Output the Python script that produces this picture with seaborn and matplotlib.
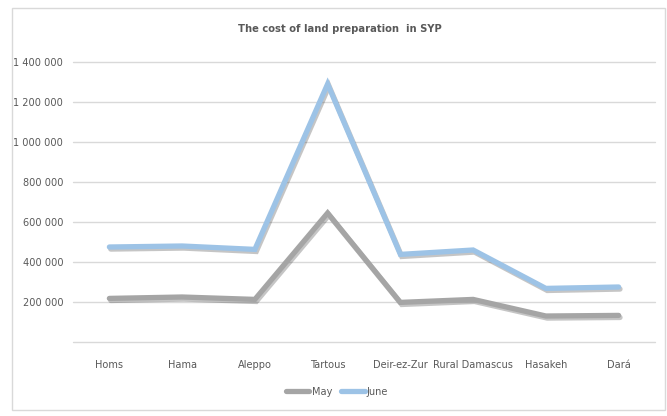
import matplotlib
matplotlib.use("Agg")
import matplotlib.pyplot as plt
import matplotlib.patheffects as pe
from matplotlib.patches import Rectangle
import pandas as pd
import seaborn as sns

regions = ["Homs", "Hama", "Aleppo", "Tartous", "Deir-ez-Zur",
           "Rural Damascus", "Hasakeh", "Dará"]
may = [218000, 225000, 213000, 645000, 198000, 213000, 130000, 133000]
june = [475000, 480000, 463000, 1290000, 438000, 460000, 268000, 275000]
yticks = [0, 200000, 400000, 600000, 800000, 1000000, 1200000, 1400000]

df = pd.DataFrame({
    "region": regions * 2,
    "month": ["May"] * len(regions) + ["June"] * len(regions),
    "cost": may + june,
})

sns.set_theme(style="white")
plt.rcParams["font.family"] = ["DejaVu Sans"]
plt.rcParams["font.stretch"] = "condensed"

txt = "#595959"
fig = plt.figure(figsize=(6.67, 4.16), dpi=100)
ax = fig.add_axes([73 / 667, 74 / 416, 582 / 667, 280 / 416])

sns.lineplot(
    data=df,
    x="region",
    y="cost",
    hue="month",
    palette={"May": "#a5a5a5", "June": "#9dc3e6"},
    linewidth=3.8,
    sort=False,
    ax=ax,
    legend=False,
)
# soft drop shadow like the office chart
for line in ax.lines:
    line.set_path_effects([
        pe.SimpleLineShadow(offset=(1, -1.5), alpha=0.25),
        pe.Normal(),
    ])
    line.set_solid_joinstyle("miter")

ax.set_xlim(-0.5, len(regions) - 0.5)
ax.set_ylim(0, 1400000)
ax.set_yticks(yticks)
ax.set_yticklabels([""] + [f"{v:,}".replace(",", " ") for v in yticks[1:]])
ax.yaxis.grid(True, color="#d9d9d9", linewidth=1)
for gl in ax.get_ygridlines():
    gl.set_clip_on(False)
ax.set_axisbelow(True)
for s in ax.spines.values():
    s.set_visible(False)
ax.tick_params(axis="both", length=0, labelsize=7.8, colors=txt)
ax.tick_params(axis="x", pad=13)
ax.tick_params(axis="y", pad=7)
ax.set_xlabel("")
ax.set_ylabel("")

fig.text(0.51, (416 - 29) / 416, "The cost of land preparation  in SYP",
         ha="center", va="center", fontsize=8, fontweight="bold", color=txt)

handles = [plt.Line2D([], [], color="#a5a5a5", linewidth=3.8),
           plt.Line2D([], [], color="#9dc3e6", linewidth=3.8)]
fig.legend(handles, ["May", "June"], loc="center",
           bbox_to_anchor=(0.505, (416 - 392) / 416), ncol=2, frameon=False,
           fontsize=7.8, labelcolor=txt, handlelength=2.2, handletextpad=0.2,
           columnspacing=0.8)

fig.patches.append(Rectangle((12 / 667, 6 / 416), 653 / 667, 402 / 416,
                             transform=fig.transFigure, fill=False,
                             edgecolor="#d9d9d9", linewidth=1))

fig.savefig("out.png", dpi=100)
